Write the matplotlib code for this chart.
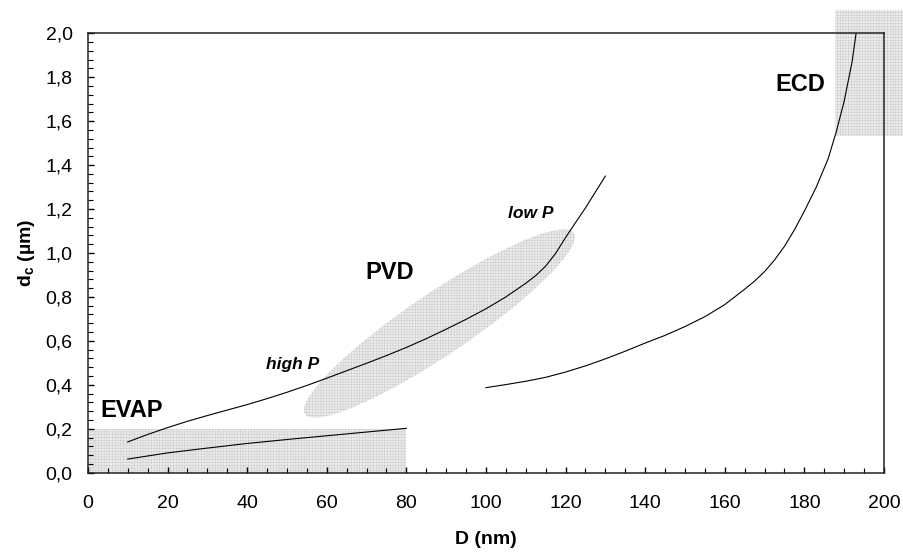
import matplotlib
matplotlib.use("Agg")
import matplotlib.pyplot as plt
from matplotlib.patches import Rectangle, Ellipse
from matplotlib.ticker import MultipleLocator, FuncFormatter
import matplotlib.transforms as mtransforms

plt.rcParams['font.family'] = ['Liberation Sans', 'DejaVu Sans']
plt.rcParams['mathtext.fontset'] = 'custom'
plt.rcParams['mathtext.rm'] = 'Liberation Sans'
plt.rcParams['mathtext.bf'] = 'Liberation Sans:bold'
plt.rcParams['hatch.linewidth'] = 0.35

# EVAP curve (lower)
evap_D = [10, 20, 30, 40, 50, 60, 70, 80]
evap_dc = [0.062, 0.090, 0.112, 0.133, 0.151, 0.168, 0.185, 0.202]

# PVD curve (high P -> low P)
pvd_D = [10, 15, 20, 25, 30, 35, 40, 45, 50, 55, 60, 65, 70, 75, 80,
         85, 90, 95, 100, 105, 110, 112.5, 115, 117.5, 120, 122.5, 125, 130]
pvd_dc = [0.14, 0.174, 0.205, 0.234, 0.26, 0.285, 0.31, 0.337, 0.366, 0.397,
          0.43, 0.464, 0.498, 0.533, 0.57, 0.61, 0.653, 0.698, 0.746, 0.80,
          0.862, 0.897, 0.94, 0.998, 1.07, 1.138, 1.205, 1.35]

# ECD curve
ecd_D = [100, 105, 110, 115, 120, 125, 130, 135, 140, 145, 150, 155, 160,
         165, 167.5, 170, 172.5, 175, 177.5, 180, 183, 186, 188, 190, 192, 193]
ecd_dc = [0.387, 0.401, 0.416, 0.434, 0.458, 0.486, 0.518, 0.553, 0.59, 0.625,
          0.665, 0.71, 0.765, 0.835, 0.872, 0.915, 0.968, 1.03, 1.105, 1.19,
          1.30, 1.43, 1.55, 1.69, 1.87, 2.0]

fig = plt.figure(figsize=(9.04, 5.52), dpi=100)
ax = fig.add_axes([0.0973, 0.1437, 0.8805, 0.796])

fill = '#ececec'
hatch_col = '#cacaca'

# shaded process windows
ax.add_patch(Rectangle((0, 0), 80, 0.2, facecolor=fill, edgecolor=hatch_col,
                       hatch='++++++', linewidth=0, zorder=1))
ax.add_patch(Rectangle((187.7, 1.534), 17.5, 0.57, facecolor=fill, edgecolor=hatch_col,
                       hatch='++++++', linewidth=0, zorder=1, clip_on=False))
# PVD ellipse, size given in pixels around a centre in data units
ell_tr = mtransforms.ScaledTranslation(88.3, 0.679, ax.transData)
ax.add_patch(Ellipse((0, 0), 324, 62, angle=34, transform=ell_tr,
                     facecolor=fill, edgecolor=hatch_col, hatch='++++++',
                     linewidth=0, zorder=1))

ax.plot(evap_D, evap_dc, color='black', lw=0.8, zorder=3)
ax.plot(pvd_D, pvd_dc, color='black', lw=0.8, zorder=3)
ax.plot(ecd_D, ecd_dc, color='black', lw=0.8, zorder=3)

ax.text(3.0, 0.283, 'EVAP', fontsize=17, fontweight='bold', ha='left', va='center')
ax.text(75.7, 0.91, 'PVD', fontsize=17, fontweight='bold', ha='center', va='center')
ax.text(179.1, 1.766, 'ECD', fontsize=17, fontweight='bold', ha='center', va='center')
ax.text(51.4, 0.493, 'high P', fontsize=12.5, fontweight='bold', style='italic',
        ha='center', va='center')
ax.text(111.2, 1.18, 'low P', fontsize=12.5, fontweight='bold', style='italic',
        ha='center', va='center')

ax.set_xlim(0, 200)
ax.set_ylim(0, 2.0)
ax.xaxis.set_major_locator(MultipleLocator(20))
ax.xaxis.set_minor_locator(MultipleLocator(5))
ax.yaxis.set_major_locator(MultipleLocator(0.2))
ax.yaxis.set_minor_locator(MultipleLocator(0.04))
ax.yaxis.set_major_formatter(FuncFormatter(lambda v, p: f'{v:.1f}'.replace('.', ',')))
ax.xaxis.set_major_formatter(FuncFormatter(lambda v, p: f'{v:.0f}'))

ax.tick_params(which='both', direction='in', top=False, right=False, labelsize=14)
ax.tick_params(which='major', length=4.5, width=1)
ax.tick_params(which='minor', length=3.3, width=0.8)
ax.tick_params(axis='x', pad=16)
ax.tick_params(axis='y', pad=11)

for s in ax.spines.values():
    s.set_linewidth(1.1)
    s.set_color('#222222')
    s.set_zorder(4)

ax.set_xlabel('D (nm)', fontsize=14, fontweight='bold')
ax.set_ylabel(r'd$_{\mathbf{c}}$ (µm)', fontsize=14, fontweight='bold')
ax.xaxis.set_label_coords(0.4997, -0.133)
ax.yaxis.set_label_coords(-0.064, 0.5)

fig.savefig('out.png', dpi=100)
